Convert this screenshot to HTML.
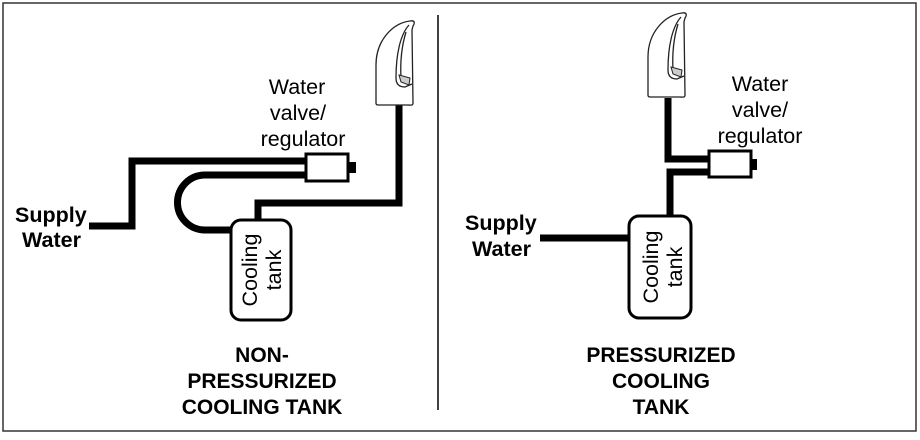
<!DOCTYPE html>
<html><head><meta charset="utf-8"><style>
body{margin:0;background:#fff}
svg text{font-family:"Liberation Sans",Arial,sans-serif;fill:#000}
</style></head><body>
<svg width="920" height="435" viewBox="0 0 920 435" xmlns="http://www.w3.org/2000/svg">
<rect x="3" y="3" width="913" height="428" fill="#fff" stroke="#333" stroke-width="1.5"/>
<line x1="438" y1="15" x2="438" y2="410" stroke="#000" stroke-width="1.5"/>
<defs>
<g id="faucet">
<path d="M1 83 L1 45 C1 20 18 3 35 1 C40 0 40 3 38 6 L37 10 L38 83 C38 86 35 85 32 85 L5 85 C2 85 1 85 1 83 Z" fill="#fff" stroke="#222" stroke-width="1.3"/>
<path d="M34 5 C25 15 21 35 21 58 C21 64 24 67 30 67 L37 64 M31 12 C27 25 25 40 26 58" fill="none" stroke="#222" stroke-width="1.3"/>
<path d="M24 55 L35 58 L34 65 L26 62 Z" fill="#ccc" stroke="#222" stroke-width="1"/>
</g>
</defs>
<g fill="none" stroke="#000" stroke-width="7">
<polyline points="89,226 132,226 132,161 306,161"/>
<path d="M306,175 L205,175 A27.5,27.5 0 0 0 205,230 L231,230"/>
<polyline points="258,220 258,203 399,203 399,105"/>
<line x1="540" y1="238" x2="629" y2="238"/>
<polyline points="668,98 668,159 709,159"/>
<polyline points="709,172 670,172 670,216"/>
</g>
<g fill="#fff" stroke="#000" stroke-width="3">
<rect x="306" y="154" width="42" height="27"/>
<rect x="709" y="151" width="42" height="26"/>
<rect x="231" y="220" width="60" height="100" rx="10"/>
<rect x="629" y="216" width="62" height="102" rx="10"/>
</g>
<rect x="348" y="162" width="8" height="11" fill="#000"/>
<rect x="751" y="159" width="6" height="11" fill="#000"/>
<use href="#faucet" transform="translate(375,20)"/>
<use href="#faucet" transform="translate(647,12)"/>
<g font-size="21.5">
<text x="297" y="94" text-anchor="middle">Water</text>
<text x="298" y="120" text-anchor="middle">valve/</text>
<text x="303" y="146" text-anchor="middle">regulator</text>
<text x="760" y="91" text-anchor="middle">Water</text>
<text x="760" y="117" text-anchor="middle">valve/</text>
<text x="760" y="143" text-anchor="middle">regulator</text>
<text transform="translate(259,270) rotate(-90)" text-anchor="middle" y="-2">Cooling</text>
<text transform="translate(259,270) rotate(-90)" text-anchor="middle" y="22">tank</text>
<text transform="translate(660,267) rotate(-90)" text-anchor="middle" y="-2">Cooling</text>
<text transform="translate(660,267) rotate(-90)" text-anchor="middle" y="22">tank</text>
</g>
<g font-size="21.5" font-weight="bold">
<text x="15" y="222">Supply</text>
<text x="22" y="247">Water</text>
<text x="465" y="230">Supply</text>
<text x="472" y="256">Water</text>
</g>
<g font-size="21" font-weight="bold" text-anchor="middle">
<text x="262" y="362">NON-</text>
<text x="262" y="388">PRESSURIZED</text>
<text x="262" y="414">COOLING TANK</text>
<text x="661" y="362">PRESSURIZED</text>
<text x="661" y="388">COOLING</text>
<text x="661" y="414">TANK</text>
</g>
</svg>
</body></html>
